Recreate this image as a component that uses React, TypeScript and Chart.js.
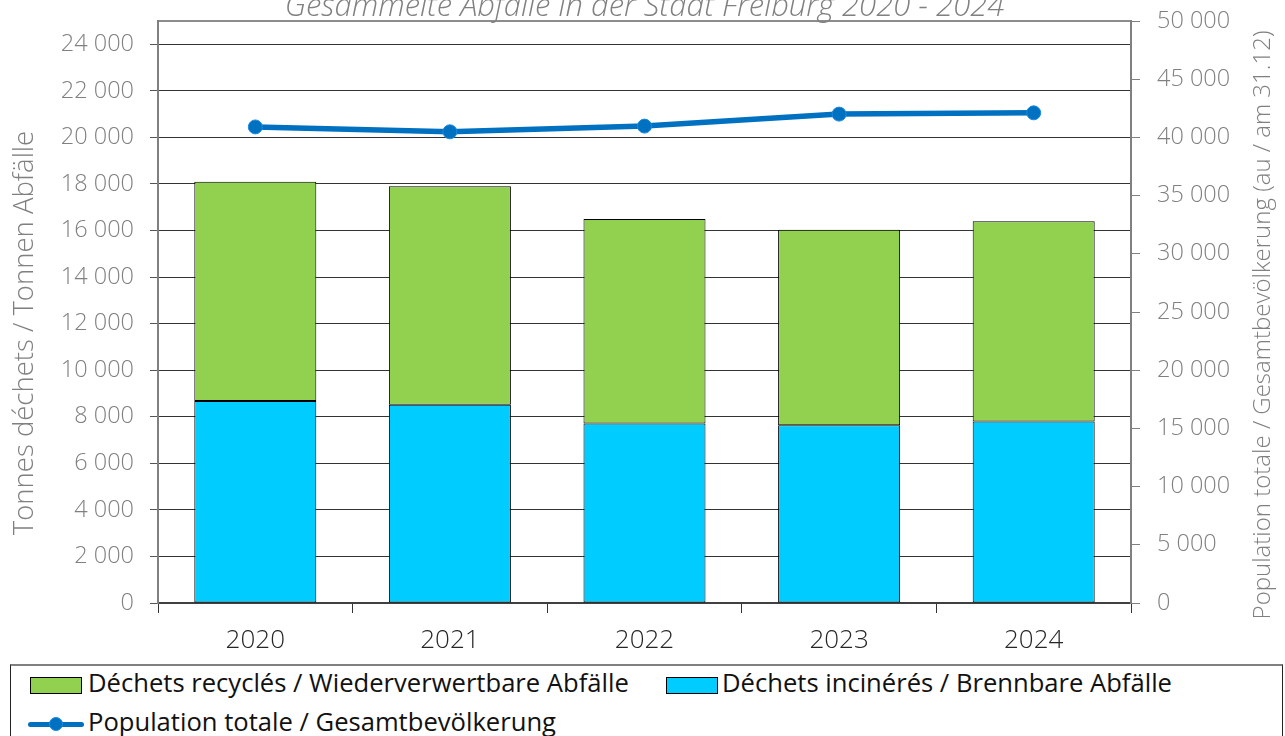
import React, { useEffect, useRef } from 'react';
import { Chart, registerables } from 'chart.js';

Chart.register(...registerables);

// ---------- data ----------
const years = ['2020', '2021', '2022', '2023', '2024'];
const incinerated = [8680, 8520, 7710, 7630, 7800];
const recycled = [9420, 9380, 8790, 8400, 8600];
const population = [40900, 40480, 40970, 42000, 42110];

const wasteTicks = [0, 2000, 4000, 6000, 8000, 10000, 12000, 14000, 16000, 18000, 20000, 22000, 24000];
const wasteMax = 25000;
const popMax = 50000;
const popStep = 5000;

const chartTitle = 'Gesammelte Abfälle in der Stadt Freiburg 2020 - 2024';
const leftTitle = 'Tonnes déchets / Tonnen Abfälle';
const rightTitle = 'Population totale / Gesamtbevölkerung (au / am 31.12)';
const recycledLabel = 'Déchets recyclés / Wiederverwertbare Abfälle';
const incineratedLabel = 'Déchets incinérés / Brennbare Abfälle';
const populationLabel = 'Population totale / Gesamtbevölkerung';

const GREEN = '#92D050';
const CYAN = '#00CCFF';
const BLUE = '#0070C0';
const FONT = '"Open Sans", "DejaVu Sans", sans-serif';

function fmt(v: number): string {
  return String(v).replace(/\B(?=(\d{3})+(?!\d))/g, ' ');
}

const overlayText = {
  id: 'overlayText',
  afterDraw(chart: any) {
    const { ctx, chartArea } = chart;
    ctx.save();
    ctx.fillStyle = '#808080';
    ctx.textAlign = 'center';
    ctx.textBaseline = 'alphabetic';
    ctx.font = `italic 300 31px ${FONT}`;
    ctx.fillText(chartTitle, (chartArea.left + chartArea.right) / 2, 16);

    ctx.font = `300 27.5px ${FONT}`;
    ctx.save();
    ctx.translate(33, 333);
    ctx.rotate(-Math.PI / 2);
    ctx.fillText(leftTitle, 0, 0);
    ctx.restore();

    ctx.font = `300 24px ${FONT}`;
    ctx.save();
    ctx.translate(1270, 325);
    ctx.rotate(-Math.PI / 2);
    ctx.fillText(rightTitle, 0, 0);
    ctx.restore();
    ctx.restore();
  },
};

export default function App() {
  const canvasRef = useRef<HTMLCanvasElement | null>(null);

  useEffect(() => {
    if (!canvasRef.current) return;
    const chart = new Chart(canvasRef.current, {
      type: 'bar',
      data: {
        labels: years,
        datasets: [
          {
            type: 'line',
            label: populationLabel,
            data: population,
            yAxisID: 'y1',
            borderColor: BLUE,
            backgroundColor: BLUE,
            borderWidth: 5.5,
            pointRadius: 7,
            pointBackgroundColor: BLUE,
            pointBorderColor: '#1a8ae0',
            pointBorderWidth: 1,
            tension: 0,
            order: 0,
          } as any,
          {
            label: incineratedLabel,
            data: incinerated,
            yAxisID: 'y',
            backgroundColor: CYAN,
            borderColor: '#000000',
            borderWidth: 1,
            borderSkipped: false,
            barPercentage: 0.627,
            categoryPercentage: 1,
            stack: 'waste',
            order: 1,
          },
          {
            label: recycledLabel,
            data: recycled,
            yAxisID: 'y',
            backgroundColor: GREEN,
            borderColor: '#000000',
            borderWidth: 1,
            borderSkipped: false,
            barPercentage: 0.627,
            categoryPercentage: 1,
            stack: 'waste',
            order: 1,
          },
        ],
      },
      options: {
        animation: false,
        responsive: true,
        maintainAspectRatio: false,
        layout: { padding: { top: 21, left: 0, right: 0, bottom: 0 } },
        plugins: {
          legend: { display: false },
          title: { display: false },
          tooltip: { enabled: false },
        },
        scales: {
          x: {
            stacked: true,
            offset: true,
            grid: {
              offset: true,
              drawOnChartArea: false,
              drawTicks: true,
              tickLength: 10,
              color: '#333333',
              lineWidth: 1,
            },
            border: { display: true, color: '#404040', width: 2 },
            ticks: {
              color: '#262626',
              font: { family: FONT, size: 26, weight: '300' as any },
              padding: 12,
              maxRotation: 0,
            },
            afterFit: (s: any) => {
              s.height = 57;
              s.paddingLeft = 0;
              s.paddingRight = 0;
            },
          },
          y: {
            type: 'linear',
            position: 'left',
            stacked: true,
            min: 0,
            max: wasteMax,
            afterBuildTicks: (s: any) => {
              s.ticks = [...wasteTicks, wasteMax].map((v) => ({ value: v }));
            },
            grid: {
              color: (c: any) => (c.tick && c.tick.value === wasteMax ? '#8c8c8c' : '#333333'),
              lineWidth: (c: any) => (c.tick && c.tick.value === wasteMax ? 2 : 1),
              tickColor: (c: any) => (c.tick && c.tick.value === wasteMax ? 'rgba(0,0,0,0)' : '#555555'),
              tickLength: 8,
            },
            border: { display: true, color: '#808080', width: 2 },
            ticks: {
              color: '#808080',
              font: { family: FONT, size: 23.5, weight: '300' as any },
              padding: 16,
              callback: (v: any) => (Number(v) === wasteMax ? '' : fmt(Number(v))),
            },
            afterFit: (s: any) => {
              s.width = 158;
              s.paddingTop = 0;
              s.paddingBottom = 0;
            },
          },
          y1: {
            type: 'linear',
            position: 'right',
            min: 0,
            max: popMax,
            grid: {
              drawOnChartArea: false,
              color: '#808080',
              tickLength: 9,
            },
            border: { display: true, color: '#808080', width: 2 },
            ticks: {
              stepSize: popStep,
              color: '#808080',
              font: { family: FONT, size: 23.5, weight: '300' as any },
              padding: 17,
              callback: (v: any) => fmt(Number(v)),
            },
            afterFit: (s: any) => {
              s.width = 154;
              s.paddingTop = 0;
              s.paddingBottom = 0;
            },
          },
        },
      },
      plugins: [overlayText],
    });
    return () => chart.destroy();
  }, []);

  const textStyle: React.CSSProperties = {
    position: 'absolute',
    fontFamily: FONT,
    fontSize: 25.6,
    fontWeight: 400,
    lineHeight: '35px',
    color: '#111111',
    whiteSpace: 'nowrap',
  };

  return (
    <div
      style={{
        position: 'absolute',
        left: 0,
        top: 0,
        width: 1285,
        height: 736,
        overflow: 'hidden',
        background: '#ffffff',
      }}
    >
      <div style={{ position: 'absolute', left: 0, top: 0, width: 1285, height: 660 }}>
        <canvas ref={canvasRef} />
      </div>
      <div
        style={{
          position: 'absolute',
          left: 10,
          top: 664,
          width: 1273,
          height: 100,
          boxSizing: 'border-box',
          border: '1px solid #222222',
          borderTop: '2px solid #808080',
        }}
      />
      <div
        style={{
          position: 'absolute',
          left: 30,
          top: 677,
          width: 52,
          height: 17,
          boxSizing: 'border-box',
          background: GREEN,
          border: '1px solid #000',
        }}
      />
      <div style={{ ...textStyle, left: 88, top: 665 }}>{recycledLabel}</div>
      <div
        style={{
          position: 'absolute',
          left: 666,
          top: 677,
          width: 52,
          height: 17,
          boxSizing: 'border-box',
          background: CYAN,
          border: '1px solid #000',
        }}
      />
      <div style={{ ...textStyle, left: 722, top: 665 }}>{incineratedLabel}</div>
      <div
        style={{
          position: 'absolute',
          left: 28,
          top: 721.5,
          width: 56,
          height: 5,
          borderRadius: 2.5,
          background: BLUE,
        }}
      />
      <div
        style={{
          position: 'absolute',
          left: 49,
          top: 717,
          width: 14,
          height: 14,
          borderRadius: 7,
          boxSizing: 'border-box',
          background: BLUE,
          border: '1px solid #1a8ae0',
        }}
      />
      <div style={{ ...textStyle, left: 88, top: 704 }}>{populationLabel}</div>
    </div>
  );
}
